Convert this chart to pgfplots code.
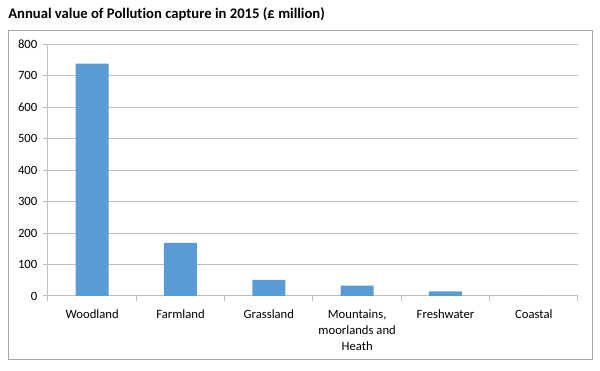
\documentclass[border=0pt]{standalone}
\usepackage{pgfplots}
\pgfplotsset{compat=1.18}
\usepackage{fontspec}
\setmainfont[Ligatures=NoCommon]{Carlito}
\definecolor{barblue}{HTML}{5B9BD5}
\definecolor{gridgray}{HTML}{BFBFBF}
\definecolor{bordergray}{HTML}{A6A6A6}
\begin{document}
\begin{tikzpicture}
\useasboundingbox (0,0) rectangle (450pt,278.25pt);
\draw[bordergray, line width=0.75pt] (6pt,8.25pt) rectangle (444pt,255pt);
\node[anchor=base west, inner sep=0, font=\bfseries\fontsize{11}{13}\selectfont] at (6pt,264pt) {Annual value of Pollution capture in 2015 (£ million)};
\begin{axis}[
  at={(36pt,56.25pt)}, anchor=south west,
  scale only axis, width=397.5pt, height=189pt,
  xmin=-0.5, xmax=5.5, ymin=0, ymax=800,
  axis x line=bottom, axis y line=left,
  axis line style={draw=gridgray, line width=0.75pt, -},
  ytick={0,100,...,800},
  ymajorgrids, grid style={draw=gridgray, line width=0.75pt},
  major tick style={draw=gridgray, line width=0.75pt},
  tick align=outside, major tick length=3.5pt,
  xtick={0,...,5}, xticklabels={Woodland,Farmland,Grassland,{Mountains,\\moorlands and\\Heath},Freshwater,Coastal},
  x tick style={draw=none},
  extra x ticks={-0.5,0.5,...,5.5}, extra x tick labels={},
  extra x tick style={x tick style={draw=gridgray, line width=0.75pt}, major tick length=3.5pt},
  xticklabel style={align=center, font=\fontsize{9.5}{12}\selectfont, yshift=-3pt},
  yticklabel style={font=\fontsize{9.5}{12}\selectfont, xshift=-1pt},
  /pgf/number format/assume math mode=true,
  /pgf/number format/1000 sep={},
  clip=false,
]
\addplot[ybar, bar width=24.75pt, fill=barblue, draw=none] coordinates {(0,738) (1,169) (2,51) (3,33) (4,15) (5,0)};
\end{axis}
\end{tikzpicture}
\end{document}
